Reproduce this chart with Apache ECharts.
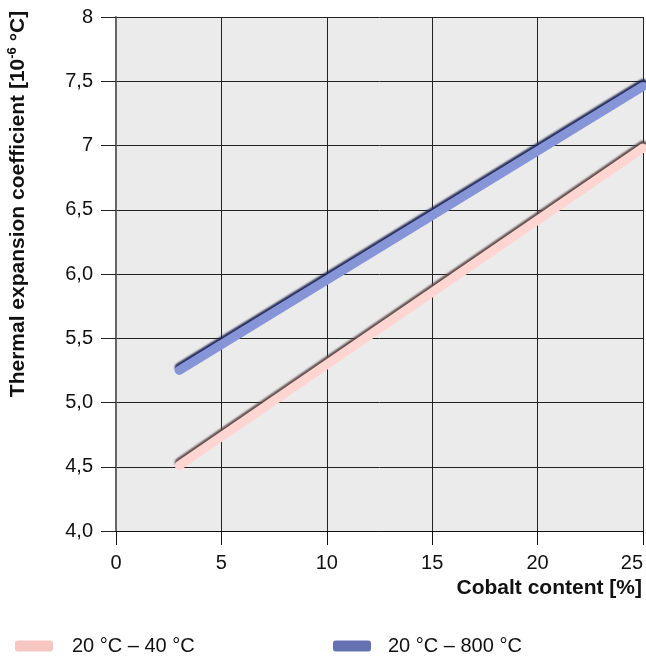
<!DOCTYPE html>
<html>
<head>
<meta charset="utf-8">
<script src="https://cdn.jsdelivr.net/npm/echarts@6/dist/echarts.min.js"></script>
<style>
  html, body { margin: 0; padding: 0; background: #fff; }
  #chart { width: 646px; height: 660px; }
</style>
</head>
<body>
<div id="chart"></div>
<script>
// data
var lowName = '20 °C – 40 °C';
var highName = '20 °C – 800 °C';
var lowData = [[3, 4.51], [25, 6.98]];   // 20-40 °C
var highData = [[3, 5.25], [25, 7.46]];  // 20-800 °C
var yTickValues = [4, 4.5, 5, 5.5, 6, 6.5, 7, 7.5, 8];
var yTickLabels = ['4,0', '4,5', '5,0', '5,5', '6,0', '6,5', '7', '7,5', '8'];

var font = 'Helvetica, Arial, "Liberation Sans", sans-serif';

var chart = echarts.init(document.getElementById('chart'));

var option = {
  animation: false,
  textStyle: { fontFamily: font },
  grid: {
    left: 116, right: 3, top: 17, bottom: 129,
    show: true,
    backgroundColor: '#ebebeb',
    borderWidth: 0
  },
  xAxis: {
    type: 'value',
    min: 0, max: 25, interval: 5,
    name: 'Cobalt content [%]',
    nameLocation: 'end',
    nameGap: 0,
    nameTextStyle: {
      fontFamily: font, fontSize: 21, fontWeight: 'bold', color: '#111',
      align: 'right', verticalAlign: 'top', padding: [47, 1, 0, 0]
    },
    axisLine: { lineStyle: { color: '#111', width: 1 } },
    axisTick: { show: true, length: 14, lineStyle: { color: '#111' } },
    axisLabel: { fontSize: 20, color: '#111', margin: 22, fontFamily: font, alignMaxLabel: 'right' },
    splitLine: { show: true, lineStyle: { color: '#222', width: 1 } }
  },
  yAxis: {
    type: 'value',
    min: 4, max: 8, interval: 0.5,
    axisLine: { show: true, lineStyle: { color: '#666', width: 2 } },
    axisTick: { show: true, length: 15, lineStyle: { color: '#222' } },
    axisLabel: {
      fontSize: 20, color: '#111', margin: 23, fontFamily: font,
      formatter: function (v) {
        var i = yTickValues.indexOf(Math.round(v * 10) / 10);
        return i >= 0 ? yTickLabels[i] : '';
      }
    },
    splitLine: { show: true, lineStyle: { color: '#222', width: 1 } }
  },
  legend: [{
    data: [{ name: lowName, itemStyle: { color: '#f7c6c3' } }],
    left: 10, top: 631,
    icon: 'roundRect', itemWidth: 38, itemHeight: 11,
    itemStyle: { shadowBlur: 0, shadowOffsetY: 0, shadowColor: 'transparent' },
    textStyle: { fontSize: 20, color: '#111', fontFamily: font, padding: [0, 0, 0, 14] }
  }, {
    data: [{ name: highName, itemStyle: { color: '#6571b3' } }],
    left: 328, top: 631,
    icon: 'roundRect', itemWidth: 38, itemHeight: 11,
    itemStyle: { shadowBlur: 0, shadowOffsetY: 0, shadowColor: 'transparent' },
    textStyle: { fontSize: 20, color: '#111', fontFamily: font, padding: [0, 0, 0, 12] }
  }],
  graphic: [{
    type: 'text',
    x: 18, y: 204,
    rotation: Math.PI / 2,
    style: {
      text: '{b|Thermal expansion coefficient [10}{s|-6}{b| °C]}',
      align: 'center', verticalAlign: 'middle',
      rich: {
        b: { fontFamily: font, fontSize: 21, fontWeight: 'bold', fill: '#111', lineHeight: 24 },
        s: { fontFamily: font, fontSize: 13, fontWeight: 'bold', fill: '#111', lineHeight: 24, verticalAlign: 'top' }
      }
    }
  }],
  series: [{
    name: lowName,
    type: 'line',
    data: lowData,
    showSymbol: false,
    itemStyle: { color: '#f7c6c3' },
    lineStyle: {
      color: '#ffd5d1', width: 9, cap: 'round',
      shadowColor: 'rgba(90,70,70,0.95)', shadowBlur: 2, shadowOffsetY: -3
    }
  }, {
    name: highName,
    type: 'line',
    data: highData,
    showSymbol: false,
    itemStyle: { color: '#6571b3' },
    lineStyle: {
      color: '#8595d8', width: 9, cap: 'round',
      shadowColor: 'rgba(30,36,80,0.95)', shadowBlur: 2, shadowOffsetY: -3
    }
  }]
};

chart.setOption(option);
</script>
</body>
</html>
